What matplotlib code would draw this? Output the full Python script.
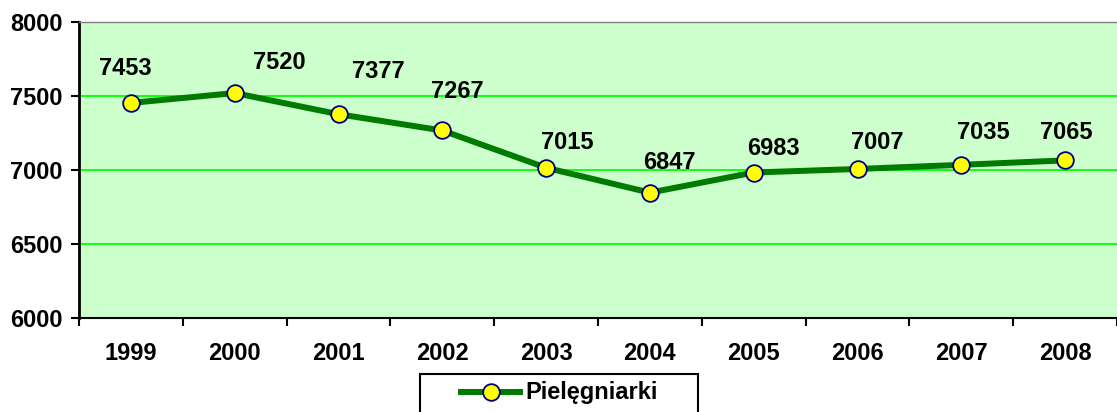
import matplotlib
matplotlib.use('Agg')
import matplotlib.pyplot as plt
from matplotlib.lines import Line2D
from matplotlib.patches import Rectangle
import numpy as np

plt.rcParams['font.family'] = ['Liberation Sans', 'DejaVu Sans']
plt.rcParams['font.weight'] = 'bold'

years = ['1999', '2000', '2001', '2002', '2003', '2004', '2005', '2006', '2007', '2008']
nurses = [7453, 7520, 7377, 7267, 7015, 6847, 6983, 7007, 7035, 7065]
yticks = [6000, 6500, 7000, 7500, 8000]
series_name = 'Pielęgniarki'

# label offsets in points (dx, dy)
label_offsets = [(-4, 25), (32, 22), (29, 31), (11, 28), (15, 18), (14, 22),
                 (14, 17), (14, 19), (16, 23), (1, 20)]

fs = 17
W, H = 1117, 412
line_style = dict(color='#007A00', lw=4.3, marker='o', ms=12,
                  mfc='#FFFF00', mec='#000080', mew=1.3)

fig = plt.figure(figsize=(W / 100, H / 100), dpi=100)
ax = fig.add_axes([79 / W, 1 - 318 / H, 1038 / W, 296 / H])
ax.set_facecolor('#CCFFCC')

x = np.arange(len(years))
ax.plot(x, nurses, zorder=3, **line_style)

for xi, v, (dx, dy) in zip(x, nurses, label_offsets):
    ax.annotate(str(v), (xi, v), xytext=(dx, dy), textcoords='offset points',
                ha='center', va='center', fontsize=fs, fontweight='bold')

ax.set_xlim(-0.5, len(years) - 0.5)
ax.set_ylim(6000, 8000)
ax.set_yticks(yticks)
ax.set_yticklabels([str(t) for t in yticks])
ax.yaxis.grid(True, color='#00FF00', lw=1.3)
ax.set_axisbelow(True)

ax.set_xticks(x)
ax.set_xticklabels(years)
ax.set_xticks(np.arange(-0.5, len(years)), minor=True)
ax.tick_params(axis='x', which='major', length=0, pad=17, labelsize=fs)
ax.tick_params(axis='x', which='minor', length=6, width=1.5, direction='out')
ax.tick_params(axis='y', length=6, width=1.5, direction='out', pad=6, labelsize=fs)

ax.spines['left'].set_linewidth(2)
ax.spines['bottom'].set_linewidth(1.5)
ax.spines['top'].set_color('#808080')
ax.spines['top'].set_linewidth(1)
ax.spines['right'].set_visible(False)

# legend box, drawn by hand so it runs off the bottom edge like the original
fig.patches.append(Rectangle((420 / W, -10 / H), 278 / W, (H - 374 + 10) / H,
                             transform=fig.transFigure, fill=False,
                             edgecolor='black', lw=1.5))
ly = 1 - 392 / H
fig.add_artist(Line2D([461 / W, 520 / W], [ly, ly], transform=fig.transFigure,
                      color=line_style['color'], lw=line_style['lw']))
fig.add_artist(Line2D([491 / W], [ly], transform=fig.transFigure, ls='none',
                      marker='o', ms=12, mfc='#FFFF00', mec='#000080', mew=1.3))
fig.text(525 / W, ly, series_name, ha='left', va='center', fontsize=fs,
         fontweight='bold')

fig.savefig('out.png', dpi=100)
